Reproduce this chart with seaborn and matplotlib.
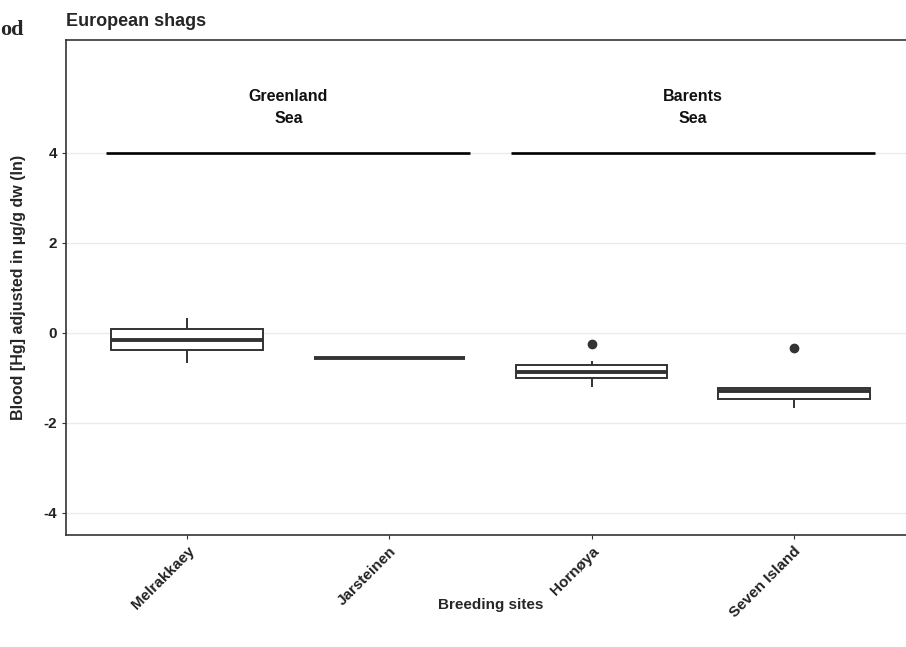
import numpy as np
import pandas as pd
import matplotlib
matplotlib.use("Agg")
import matplotlib.pyplot as plt
import seaborn as sns

sites = ["Melrakkaey", "Jarsteinen", "Hornøya", "Seven Island"]
melrakkaey = [-0.67, -0.39, -0.17, 0.07, 0.33]
jarsteinen = [-0.57, -0.57, -0.57]
hornoya = [-1.20, -1.10, -1.01, -0.95, -0.87, -0.80, -0.73, -0.64, -0.26]
seven_island = [-1.67, -1.55, -1.47, -1.40, -1.29, -1.26, -1.24, -1.24, -0.35]

seas = ["Greenland\nSea", "Barents\nSea"]
sea_spans = [(-0.4, 1.4), (1.6, 3.4)]
sea_line_y = 4
yticks = [-4, -2, 0, 2, 4]

df = pd.DataFrame({
    "site": (["Melrakkaey"] * len(melrakkaey) + ["Jarsteinen"] * len(jarsteinen)
             + ["Hornøya"] * len(hornoya) + ["Seven Island"] * len(seven_island)),
    "hg": melrakkaey + jarsteinen + hornoya + seven_island,
})

sns.set_style("white")
plt.rcParams["font.family"] = ["Liberation Sans", "DejaVu Sans"]
plt.rcParams["axes.unicode_minus"] = False

fig = plt.figure(figsize=(9.06, 6.47), dpi=100)
ax = fig.add_axes([66 / 906, 1 - 535 / 647, 849 / 906, 495 / 647])

for y in yticks:
    ax.axhline(y, color="#ebebeb", lw=1.0, zorder=0)

sns.boxplot(data=df, x="site", y="hg", order=sites, width=0.75, ax=ax,
            color="white", linecolor="#333333", linewidth=1.4,
            medianprops={"linewidth": 2.8, "color": "#333333"},
            flierprops={"marker": "o", "markersize": 6, "markerfacecolor": "#333333",
                        "markeredgecolor": "#333333"},
            showcaps=False)

for (x0, x1), label in zip(sea_spans, seas):
    ax.plot([x0, x1], [sea_line_y, sea_line_y], color="black", lw=1.9, solid_capstyle="butt")
    ax.text((x0 + x1) / 2, 5, label, ha="center", va="center", fontsize=11.5,
            fontweight="bold", linespacing=1.55, color="#111111")

ax.set_xlim(-0.6, 3.6)
ax.set_ylim(-4.5, 6.5)
ax.set_yticks(yticks)
ax.set_yticklabels([str(v) for v in yticks], fontsize=11, fontweight="bold", color="#222222")
ax.set_xticks(range(len(sites)))
ax.set_xticklabels(sites, rotation=45, ha="right", rotation_mode="anchor",
                   fontsize=11, fontweight="bold", color="#222222")
ax.tick_params(axis="both", length=3, width=0.8, color="#333333", direction="out",
               bottom=True, left=True)
for s in ax.spines.values():
    s.set_color("#333333")
    s.set_linewidth(1.2)

ax.set_xlabel("Breeding sites", fontsize=11, fontweight="bold")
ax.xaxis.set_label_coords(0.5, -0.128)
ax.set_ylabel("Blood [Hg] adjusted in µg/g dw (ln)", fontsize=11.5, fontweight="bold")
ax.yaxis.set_label_coords(-0.047, 0.5)
ax.set_title("European shags", loc="left", fontsize=13, fontweight="bold", pad=10)

fig.text(0.0, 1 - 30 / 647, "od", fontsize=16, fontweight="bold",
         family="Liberation Serif", va="center", ha="left")

fig.savefig("out.png", dpi=100)
